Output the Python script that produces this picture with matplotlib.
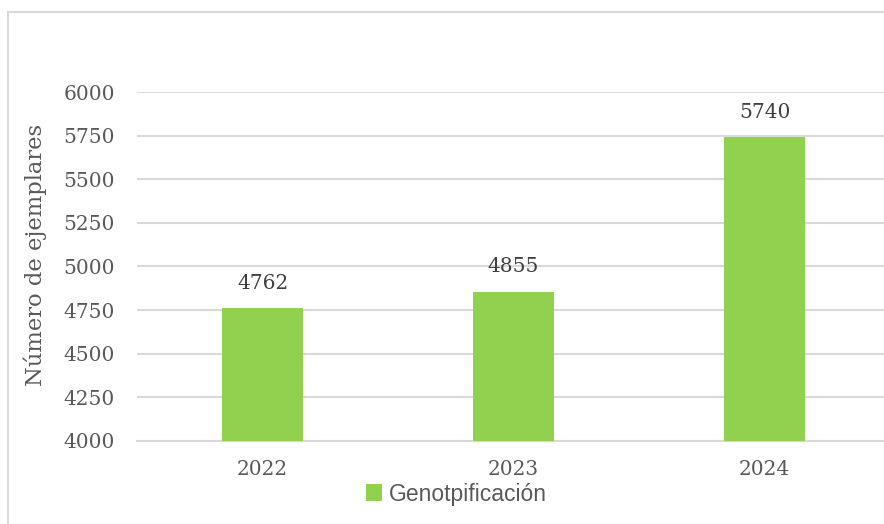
import matplotlib
matplotlib.use("Agg")
import matplotlib.pyplot as plt
from matplotlib.patches import Rectangle, Patch

years = ["2022", "2023", "2024"]
values = [4762, 4855, 5740]
series_name = "Genotpificación"
y_ticks = [4000, 4250, 4500, 4750, 5000, 5250, 5500, 5750, 6000]

W, H = 884, 524
fig = plt.figure(figsize=(W / 100, H / 100), dpi=100)
fig.patch.set_facecolor("white")

# outer chart border (cropped on right/bottom)
fig.add_artist(Rectangle((8 / W, -0.1), 1.1, 1 - 12 / H + 0.1, transform=fig.transFigure,
                         fill=False, edgecolor="#D9D9D9", linewidth=1.5))

ax = fig.add_axes([137 / W, 1 - 441 / H, (890 - 137) / W, (441 - 92) / H])
x = list(range(len(years)))
bars = ax.bar(x, values, width=0.32, color="#92D050", zorder=3)
ax.set_xlim(-0.5, len(years) - 0.5)
ax.set_ylim(4000, 6000)
ax.set_yticks(y_ticks)
ax.set_yticklabels([str(t) for t in y_ticks])
ax.set_xticks(x)
ax.set_xticklabels(years)

serif = "DejaVu Serif"
txtc = "#595959"
for lab in ax.get_yticklabels() + ax.get_xticklabels():
    lab.set_fontfamily(serif)
    lab.set_fontsize(14.5)
    lab.set_color(txtc)
ax.tick_params(axis="y", length=0, pad=16)
ax.tick_params(axis="x", length=0, pad=14)

ax.grid(axis="y", color="#D9D9D9", linewidth=1.5, zorder=0)
for s in ["top", "right", "left"]:
    ax.spines[s].set_visible(False)
ax.spines["bottom"].set_color("#D9D9D9")
ax.spines["bottom"].set_linewidth(1.5)

for xi, v in zip(x, values):
    ax.annotate(str(v), (xi, v), xytext=(0, 18), textcoords="offset points",
                ha="center", va="center", fontfamily=serif, fontsize=14.5, color="#404040")

ax.set_ylabel("Número de ejemplares", fontfamily=serif, fontsize=16.3, color=txtc)
ax.yaxis.set_label_coords((35 - 137) / (890 - 137), (441 - 255) / (441 - 92))
ax.yaxis.label.set_va("center")

leg = fig.legend(handles=[Patch(facecolor="#92D050", edgecolor="none")], labels=[series_name],
                 loc="center", bbox_to_anchor=(456 / W, 1 - 494 / H), frameon=False,
                 prop={"family": "Liberation Sans", "size": 16.5}, handlelength=0.7,
                 handleheight=0.7, handletextpad=0.3)
for t in leg.get_texts():
    t.set_color(txtc)

fig.savefig("out.png", dpi=100)
